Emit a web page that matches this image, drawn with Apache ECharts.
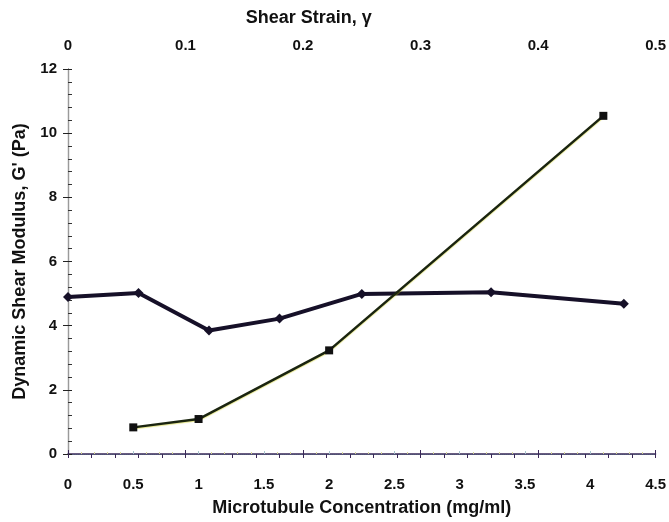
<!DOCTYPE html>
<html>
<head>
<meta charset="utf-8">
<title>Dynamic Shear Modulus</title>
<script src="https://cdn.jsdelivr.net/npm/echarts@6/dist/echarts.min.js"></script>
<style>
  html, body { margin: 0; padding: 0; background: #ffffff; }
  #chart { width: 669px; height: 522px; }
</style>
</head>
<body>
<div id="chart"></div>
<script>
// G' versus shear strain (top axis)
const strainValues = [0, 0.06, 0.12, 0.18, 0.25, 0.36, 0.473];
const modulusVsStrain = [4.89, 5.02, 3.85, 4.22, 4.99, 5.04, 4.68];

// G' versus microtubule concentration (bottom axis)
const concentrationValues = [0.5, 1, 2, 4.1];
const modulusVsConcentration = [0.83, 1.09, 3.23, 10.54];

// Axis ranges and titles
const concTicks = { min: 0, max: 4.5, interval: 0.5 };
const strainTicks = { min: 0, max: 0.5, interval: 0.1 };
const modulusTicks = { min: 0, max: 12, interval: 2 };
const xTitle = 'Microtubule Concentration (mg/ml)';
const x2Title = 'Shear Strain, \u03b3';
const yTitle = "Dynamic Shear Modulus, G' (Pa)";

const FONT = 'Liberation Sans, Arial, sans-serif';
const labelStyle = { fontFamily: FONT, fontWeight: 'bold', fontSize: 15, color: '#111111' };
const nameStyle = { fontFamily: FONT, fontWeight: 'bold', fontSize: 18, color: '#111111' };

const chart = echarts.init(document.getElementById('chart'), null, { renderer: 'canvas' });

const option = {
  backgroundColor: '#ffffff',
  animation: false,
  grid: { left: 68, right: 10, top: 69, bottom: 66, containLabel: false },
  xAxis: [
    {
      // bottom axis: concentration
      type: 'value',
      position: 'bottom',
      min: concTicks.min, max: concTicks.max, interval: concTicks.interval,
      name: xTitle, nameLocation: 'middle', nameGap: 45,
      nameTextStyle: nameStyle,
      axisLine: { show: true, lineStyle: { color: '#86c4c0', width: 1, type: 'dotted' } },
      axisTick: { show: true, inside: true, length: 3, lineStyle: { color: '#a8c4cc' } },
      minorTick: { show: true, splitNumber: 5, length: 2, lineStyle: { color: '#d4d49a' } },
      axisLabel: Object.assign({ margin: 23 }, labelStyle),
      splitLine: { show: false }
    },
    {
      // top axis: shear strain
      type: 'value',
      position: 'top',
      min: strainTicks.min, max: strainTicks.max, interval: strainTicks.interval,
      name: x2Title, nameLocation: 'middle', nameGap: 42,
      nameTextStyle: Object.assign({ padding: [0, 106, 0, 0] }, nameStyle),
      axisLine: { show: true, lineStyle: { color: '#3a2858', width: 1.5 } },
      axisTick: { show: true, inside: true, length: 4, lineStyle: { color: '#3a2858' } },
      minorTick: { show: true, splitNumber: 5, length: 4, lineStyle: { color: '#3a2858' } },
      axisLabel: Object.assign({ margin: 16 }, labelStyle),
      splitLine: { show: false }
    },
    {
      // outward tick stubs on the top axis
      type: 'value',
      position: 'top',
      min: strainTicks.min, max: strainTicks.max, interval: strainTicks.interval,
      axisLine: { show: false },
      axisTick: { show: true, inside: false, length: 4, lineStyle: { color: '#3a2858' } },
      axisLabel: { show: false },
      splitLine: { show: false }
    }
  ],
  yAxis: [
    {
      type: 'value',
      position: 'left',
      min: modulusTicks.min, max: modulusTicks.max, interval: modulusTicks.interval,
      name: yTitle, nameLocation: 'middle', nameGap: 37,
      nameTextStyle: nameStyle,
      axisLine: { show: true, lineStyle: { color: '#222222', width: 1.2 } },
      axisTick: { show: true, inside: true, length: 4, lineStyle: { color: '#222222' } },
      minorTick: { show: true, splitNumber: 5, length: 4, lineStyle: { color: '#333333' } },
      axisLabel: Object.assign({ margin: 11 }, labelStyle),
      splitLine: { show: false }
    },
    {
      // outward tick stubs on the left axis
      type: 'value',
      position: 'left',
      min: modulusTicks.min, max: modulusTicks.max, interval: modulusTicks.interval,
      axisLine: { show: false },
      axisTick: { show: true, inside: false, length: 5, lineStyle: { color: '#222222' } },
      axisLabel: { show: false },
      splitLine: { show: false }
    },
    {
      // right frame line
      type: 'value',
      position: 'right',
      min: modulusTicks.min, max: modulusTicks.max,
      axisLine: { show: true, lineStyle: { color: '#9a9a9a', width: 1 } },
      axisTick: { show: false },
      axisLabel: { show: false },
      splitLine: { show: false }
    }
  ],
  series: [
    {
      name: 'G vs strain',
      type: 'line',
      xAxisIndex: 1,
      yAxisIndex: 0,
      data: strainValues.map((s, i) => [s, modulusVsStrain[i]]),
      symbol: 'diamond',
      symbolSize: 10,
      lineStyle: { color: '#161028', width: 4 },
      itemStyle: { color: '#161028' },
      z: 3
    },
    {
      name: 'G vs concentration',
      type: 'line',
      xAxisIndex: 0,
      yAxisIndex: 0,
      data: concentrationValues.map((c, i) => [c, modulusVsConcentration[i]]),
      symbol: 'rect',
      symbolSize: 8,
      lineStyle: { color: '#1a2410', width: 2.5, shadowColor: 'rgba(200,200,0,0.45)', shadowBlur: 1, shadowOffsetY: 1 },
      itemStyle: { color: '#111111' },
      z: 4
    }
  ]
};

chart.setOption(option);
</script>
</body>
</html>
